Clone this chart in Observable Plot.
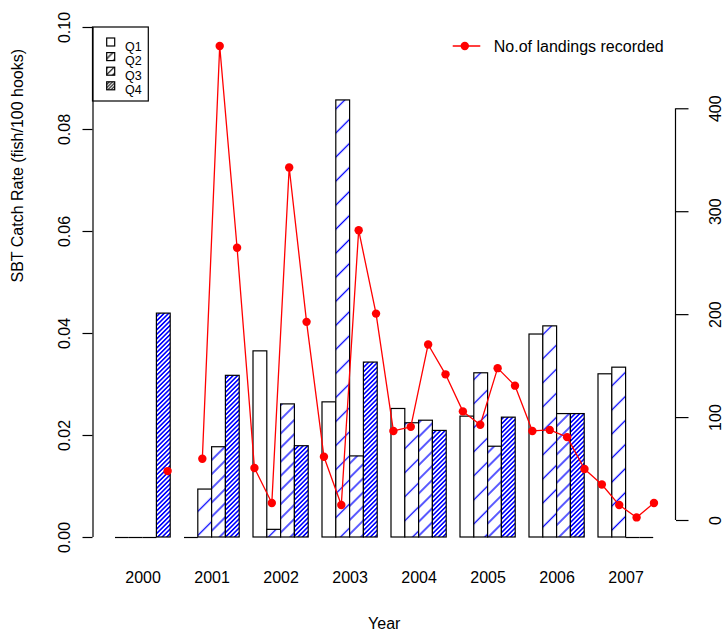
<!DOCTYPE html>
<html>
<head>
<meta charset="utf-8">
<script src="https://cdn.jsdelivr.net/npm/d3@7"></script>
<script src="https://cdn.jsdelivr.net/npm/@observablehq/plot@0.6"></script>
<style>
  body { margin: 0; background: #fff; }
  #chart { position: relative; width: 723px; height: 633px; }
</style>
</head>
<body>
<div id="chart"></div>
<script>
// ---------------- data ----------------
const years = ["2000", "2001", "2002", "2003", "2004", "2005", "2006", "2007"];
const quarters = ["Q1", "Q2", "Q3", "Q4"];
// SBT catch rate (fish/100 hooks) per year, one array per quarter
const rateQ1 = [0, 0, 0.0365, 0.0265, 0.0252, 0.0237, 0.0398, 0.0320];
const rateQ2 = [0, 0.0094, 0.0015, 0.0857, 0.0224, 0.0322, 0.0414, 0.0333];
const rateQ3 = [0, 0.0177, 0.0261, 0.0159, 0.0229, 0.0178, 0.0242, 0];
const rateQ4 = [0.0439, 0.0317, 0.0179, 0.0343, 0.0209, 0.0235, 0.0242, 0];
// No. of landings recorded, quarterly 2000 Q1 ... 2007 Q4 (null = not recorded)
const landings = [
  null, null, null, 48,
  null, 60, 461, 265,
  51, 17, 343, 193,
  62, 15, 282, 201,
  87, 91, 171, 142,
  106, 93, 148, 131,
  87, 88, 81, 50,
  35, 15, 3, 17
];
const leftTicks = [0, 0.02, 0.04, 0.06, 0.08, 0.10];
const rightTicks = [0, 100, 200, 300, 400];
const yTitle = "SBT Catch Rate (fish/100 hooks)";
const xTitle = "Year";
const lineLegend = "No.of landings recorded";

// ---------------- layout ----------------
const W = 723, H = 633;
const BAR0 = 115, BW = 13.8;          // pixel of bar unit 1, pixels per bar unit
const Y0 = 537, YK = 5100;            // pixel of rate 0, pixels per rate unit
const uFromPx = px => 1 + (px - BAR0) / BW;
const yFromPx = py => (Y0 - py) / YK;
// landings share the plot via their own (right-hand) linear mapping
const L0PX = 520, LK = 1.0293;        // pixel of 0 landings, pixels per landing
const yOfL = L => yFromPx(L0PX - LK * L);
const LofY = y => (L0PX - (Y0 - YK * y)) / LK;
// quarter index (1 = 2000 Q1) -> bar units
const Q4PX = 167.1, QSTEP = 17.37;
const qToU = q => uFromPx(Q4PX + (q - 4) * QSTEP);

const frameL = 92.5, frameR = 675, frameT = 7, frameB = 557;

const rates = [rateQ1, rateQ2, rateQ3, rateQ4];
const bars = years.flatMap((yr, g) => quarters.map((q, j) => ({
  year: yr, quarter: q, j, value: rates[j][g], u1: 5 * g + j + 1
})));
const fills = ["white", "url(#hQ2)", "url(#hQ3)", "url(#hQ4)"];
const legendFills = ["white", "url(#kQ2)", "url(#kQ3)", "url(#kQ4)"];
const lineData = landings.map((L, i) => ({q: i + 1, L}));
const groupCenters = years.map((y, g) => 5 * g + 3);

const legendRows = quarters.map((q, j) => ({q, j, fill: legendFills[j],
  sy: 42 + j * 14.6, ty: 50 + j * 14.6}));

const marks = [];
// bars
quarters.forEach((q, j) => {
  marks.push(Plot.rect(bars.filter(b => b.j === j && b.value > 0), {
    x1: "u1", x2: d => d.u1 + 1, y1: 0, y2: "value",
    fill: fills[j], stroke: "black", strokeWidth: 1.2
  }));
});
// zero-height bars drawn as baseline segments
marks.push(Plot.ruleY(bars.filter(b => b.value === 0), {
  x1: "u1", x2: d => d.u1 + 1, y: 0, stroke: "black", strokeWidth: 1.2
}));
// landings line + points
marks.push(Plot.line(lineData, {
  x: d => qToU(d.q), y: d => d.L == null ? NaN : yOfL(d.L),
  stroke: "#ff0000", strokeWidth: 1.3
}));
marks.push(Plot.dot(lineData.filter(d => d.L != null), {
  x: d => qToU(d.q), y: d => yOfL(d.L), r: 4.2, fill: "#ff0000", stroke: "none"
}));
// left axis
marks.push(Plot.ruleX([uFromPx(frameL)], {y1: leftTicks[0], y2: leftTicks[leftTicks.length - 1], stroke: "black", strokeWidth: 1.2}));
marks.push(Plot.axisY(leftTicks, {
  anchor: "left", tickSize: 10, tickPadding: 13, tickRotate: -90,
  tickFormat: d3.format(".2f"), label: null, strokeWidth: 1.2
}));
// right axis (landings)
marks.push(Plot.ruleX([uFromPx(frameR)], {y1: yOfL(rightTicks[0]), y2: yOfL(rightTicks[rightTicks.length - 1]), stroke: "black", strokeWidth: 1.2}));
marks.push(Plot.axisY(rightTicks.map(yOfL), {
  anchor: "right", tickSize: 12.5, tickPadding: 32.5, tickRotate: -90,
  tickFormat: d => String(Math.round(LofY(d))), label: null, strokeWidth: 1.2
}));
// x axis labels (years, no ticks)
marks.push(Plot.axisX(groupCenters, {
  anchor: "bottom", tickSize: 0, tickPadding: 14,
  tickFormat: d => years[(d - 3) / 5], label: null
}));
// axis titles
marks.push(Plot.text([yTitle], {text: d => d, frameAnchor: "left", rotate: -90,
  lineAnchor: "bottom", dx: 22 - frameL, fontSize: 16}));
marks.push(Plot.text([xTitle], {text: d => d, frameAnchor: "bottom",
  lineAnchor: "bottom", dy: 628 - frameB, fontSize: 16}));
// quarter legend (top-left box)
marks.push(Plot.rect([0], {x1: uFromPx(frameL), x2: uFromPx(148.3), y1: yFromPx(101), y2: yFromPx(27),
  fill: "none", stroke: "black", strokeWidth: 1.2}));
marks.push(Plot.rect(legendRows, {x1: uFromPx(106.7), x2: uFromPx(114.7),
  y1: d => yFromPx(d.sy + 4), y2: d => yFromPx(d.sy - 4),
  fill: d => d.fill, stroke: "black", strokeWidth: 1.2}));
marks.push(Plot.text(legendRows, {x: uFromPx(124.5), y: d => yFromPx(d.ty), text: "q",
  textAnchor: "start", lineAnchor: "bottom", fontSize: 12.5}));
// line legend (top-right)
marks.push(Plot.line([452.7, 479.3], {x: d => uFromPx(d), y: () => yFromPx(45.5), stroke: "#ff0000", strokeWidth: 1.3}));
marks.push(Plot.dot([464.3], {x: d => uFromPx(d), y: () => yFromPx(45.5), r: 4.2, fill: "#ff0000", stroke: "none"}));
marks.push(Plot.text([lineLegend], {x: uFromPx(493.3), y: yFromPx(51.7), text: d => d,
  textAnchor: "start", lineAnchor: "bottom", fontSize: 16}));

const svg = Plot.plot({
  width: W, height: H,
  marginLeft: frameL, marginRight: W - frameR, marginTop: frameT, marginBottom: H - frameB,
  x: {type: "linear", domain: [1, 40], range: [BAR0, BAR0 + 39 * BW]},
  y: {type: "linear", domain: [0, 0.1], range: [Y0, Y0 - 0.1 * YK]},
  style: {fontFamily: "Arial, 'Liberation Sans', Helvetica, sans-serif", fontSize: "16px",
          background: "white", color: "black", overflow: "visible"},
  marks
});

// hatch patterns (R-style density shading)
const defs = d3.select(svg).insert("defs", ":first-child");
function hatch(id, spacing, color, w) {
  const p = defs.append("pattern").attr("id", id)
    .attr("patternUnits", "userSpaceOnUse")
    .attr("width", spacing).attr("height", spacing)
    .attr("patternTransform", "rotate(45)");
  p.append("rect").attr("width", spacing).attr("height", spacing).attr("fill", "white");
  p.append("line").attr("x1", spacing / 2).attr("x2", spacing / 2)
    .attr("y1", -1).attr("y2", spacing + 1)
    .attr("stroke", color).attr("stroke-width", w);
}
hatch("hQ2", 17, "#0000ff", 1.3);
hatch("hQ3", 10, "#0000ff", 1.3);
hatch("hQ4", 3.2, "#0000ff", 1.6);
hatch("kQ2", 6, "black", 1.2);
hatch("kQ3", 4.5, "black", 1.2);
hatch("kQ4", 2.2, "black", 1.0);

document.getElementById("chart").appendChild(svg);
</script>
</body>
</html>
